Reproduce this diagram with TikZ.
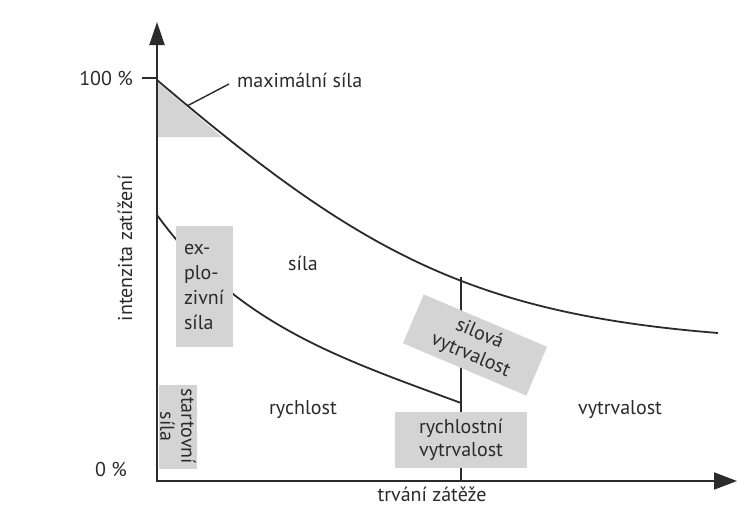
\documentclass[tikz,border=0pt]{standalone}
\usepackage{fontspec}
\setmainfont{PT Sans}
\usetikzlibrary{arrows.meta}
\definecolor{ink}{HTML}{2B2B2B}
\definecolor{boxgrey}{HTML}{D4D4D4}
\begin{document}
\begin{tikzpicture}[x=1pt,y=-1pt,
  lbl/.style={text=ink,font=\fontsize{20}{24}\selectfont,inner sep=0pt},
  greybox/.style={fill=boxgrey,draw=none,text=ink,font=\fontsize{20}{23}\selectfont,align=center,inner sep=0pt},
  curve/.style={line width=1.8pt,draw=ink},
  thinline/.style={line width=1.4pt,draw=ink},
  axisline/.style={line width=2pt,draw=ink,{Triangle[length=23pt,width=15pt]}-{Triangle[length=23pt,width=17pt]}}]
\fill[white] (0,0) rectangle (750,506);
\useasboundingbox (0,0) rectangle (750,506);
% coordinates
\coordinate (O) at (157,481);
\coordinate (ytop) at (157,22);
\coordinate (xend) at (737,481);
\coordinate (tickl) at (142,78);
\coordinate (tickr) at (157,78);
\coordinate (vtop) at (461,277);
\coordinate (vbot) at (461,481);
\coordinate (mpt) at (187,106);
\coordinate (mend) at (229,84);
\coordinate (c1s) at (157,80);
\coordinate (c1e) at (718,333);
\coordinate (c2s) at (157,215);
\coordinate (c2e) at (461,403);
% shaded triangle
\fill[boxgrey] (157,82) -- (157,137) -- (222,137) -- cycle;
% curves
\draw[curve] (c1s) .. controls (357,250) and (468,313) .. (c1e);
\draw[curve] (c2s) .. controls (237,325) and (341,358.6) .. (c2e);
\draw[thinline] (vtop) -- (vbot);
% axes
\draw[axisline] (ytop) -- (O) -- (xend);
\draw[thinline] (tickl) -- (tickr);
\draw[thinline] (mpt) -- (mend);
% labels
\node[lbl,anchor=east] (p100) at (133,78) {100 \%};
\node[lbl,anchor=east] (p0) at (127,469) {0 \%};
\node[lbl,rotate=90] (ylab) at (125,248) {intenzita zatížení};
\node[lbl] (xlab) at (432,494) {trvání zátěže};
\node[lbl,anchor=west] (maxs) at (237,80) {maximální síla};
\node[lbl] (sila) at (303,263) {síla};
\node[lbl] (rych) at (303,410) {rychlost};
\node[lbl] (vytr) at (620,410) {vytrvalost};
% grey boxes
\node[greybox,minimum width=57pt,minimum height=121pt,text width=41pt,align=left,font=\fontsize{20}{25}\selectfont] (expl) at (204.5,286.5) {ex-\\plo-\\zivní\\síla};
\node[greybox,rotate=-90,minimum width=84pt,minimum height=38pt,font=\fontsize{20}{21}\selectfont] (start) at (178,426.5) {startovní\\síla};
\node[greybox,rotate=-23,minimum width=134pt,minimum height=53pt] (silv) at (475,345) {silová\\vytrvalost};
\node[greybox,minimum width=132pt,minimum height=56pt] (rychv) at (461,440) {rychlostní\\vytrvalost};
\end{tikzpicture}
\end{document}
